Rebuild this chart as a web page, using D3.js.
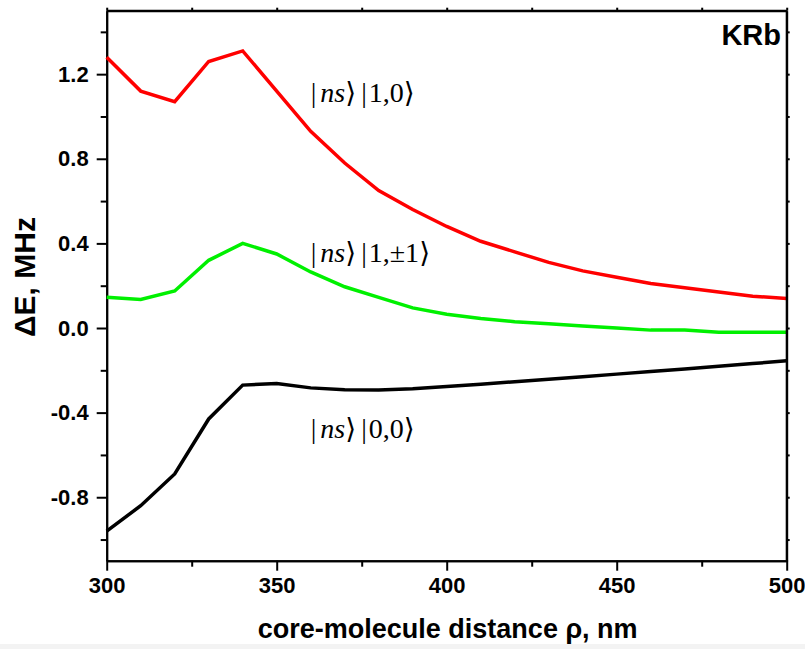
<!DOCTYPE html>
<html>
<head>
<meta charset="utf-8">
<script src="https://cdn.jsdelivr.net/npm/d3@7"></script>
<style>
  html, body { margin: 0; padding: 0; background: #fff; }
  svg { display: block; }
</style>
</head>
<body>
<svg id="chart" width="805" height="649"></svg>
<script>
// Core–molecule distance (nm)
const rho = [300, 310, 320, 330, 340, 350, 360, 370, 380, 390, 400,
             410, 420, 430, 440, 450, 460, 470, 480, 490, 500];

// Energy shifts ΔE (MHz) for each molecular state
const shift10 = [1.28, 1.12, 1.07, 1.26, 1.31, 1.12, 0.93, 0.78, 0.65, 0.56, 0.48,
                 0.41, 0.36, 0.31, 0.27, 0.24, 0.21, 0.19, 0.17, 0.15, 0.14];
const shift11 = [0.145, 0.135, 0.175, 0.32, 0.40, 0.35, 0.265, 0.195, 0.145, 0.095, 0.065,
                 0.045, 0.03, 0.02, 0.01, 0.0, -0.01, -0.01, -0.02, -0.02, -0.02];
const shift00 = [-0.96, -0.84, -0.69, -0.43, -0.27, -0.262, -0.283, -0.292, -0.293, -0.287, -0.277,
                 -0.266, -0.254, -0.242, -0.23, -0.218, -0.206, -0.194, -0.181, -0.168, -0.155];

const seriesNames = ["1,0", "1,\u00B11", "0,0"];
const seriesColors = ["#ff0000", "#00f000", "#000000"];
const labelPos = [[360, 1.07], [360, 0.31], [360, -0.52]];

const xTicks = [300, 350, 400, 450, 500];
const xMinorTicks = [325, 375, 425, 475];
const yTicks = [-0.8, -0.4, 0.0, 0.4, 0.8, 1.2];
const yTickLabels = ["-0.8", "-0.4", "0.0", "0.4", "0.8", "1.2"];
const yMinorTicks = [-1.0, -0.6, -0.2, 0.2, 0.6, 1.0, 1.4];

const svg = d3.select("#chart");
const m = { left: 106.7, right: 786.7, top: 10.7, bottom: 560.7 };

const x = d3.scaleLinear().domain([300, 500]).range([m.left, m.right]);
const y = d3.scaleLinear().domain([-1.1, 1.5]).range([m.bottom, m.top]);

// faint strip along the bottom edge
svg.append("rect").attr("x", 0).attr("y", 644).attr("width", 805).attr("height", 5).attr("fill", "#f3f3f3");

const tickFont = "'Liberation Sans', Arial, sans-serif";

function styleAxis(g) {
  g.selectAll("path.domain").attr("stroke", "#000").attr("stroke-width", 2);
  g.selectAll(".tick line").attr("stroke", "#000").attr("stroke-width", 2);
  g.selectAll("text").attr("font-family", tickFont).attr("font-weight", "bold")
    .attr("font-size", 22).attr("fill", "#000");
}

// bottom axis
svg.append("g").attr("transform", `translate(0,${m.bottom})`)
  .call(d3.axisBottom(x).tickValues(xTicks).tickSize(10).tickSizeOuter(0).tickPadding(7).tickFormat(d3.format("d")))
  .call(styleAxis);
svg.append("g").attr("transform", `translate(0,${m.bottom})`)
  .call(d3.axisBottom(x).tickValues(xMinorTicks).tickSize(6).tickSizeOuter(0).tickFormat(""))
  .call(styleAxis);

// left axis
svg.append("g").attr("transform", `translate(${m.left},0)`)
  .call(d3.axisLeft(y).tickValues(yTicks).tickSize(10).tickSizeOuter(0).tickPadding(8)
    .tickFormat((d, i) => yTickLabels[i]))
  .call(styleAxis);
svg.append("g").attr("transform", `translate(${m.left},0)`)
  .call(d3.axisLeft(y).tickValues(yMinorTicks).tickSize(6).tickSizeOuter(0).tickFormat(""))
  .call(styleAxis);

// top and right axes (ticks only)
svg.append("g").attr("transform", `translate(0,${m.top})`)
  .call(d3.axisTop(x).tickValues(xTicks.concat(xMinorTicks)).tickSize(3).tickSizeOuter(0).tickFormat(""))
  .call(styleAxis);
svg.append("g").attr("transform", `translate(${m.right},0)`)
  .call(d3.axisRight(y).tickValues(yTicks.concat(yMinorTicks)).tickSize(3).tickSizeOuter(0).tickFormat(""))
  .call(styleAxis);

// curves
const series = [shift10, shift11, shift00];
const line = d3.line().x((d, i) => x(rho[i])).y(d => y(d));
const plot = svg.append("g");
series.forEach((vals, k) => {
  plot.append("path").datum(vals)
    .attr("d", line)
    .attr("fill", "none")
    .attr("stroke", seriesColors[k])
    .attr("stroke-width", 3.5)
    .attr("stroke-linejoin", "miter");
});

// state labels |ns⟩|J,M⟩
const serif = "'Liberation Serif', 'Times New Roman', 'DejaVu Serif', serif";
const bracketFont = "'DejaVu Serif', serif";
seriesNames.forEach((name, k) => {
  const t = svg.append("text")
    .attr("x", x(labelPos[k][0]))
    .attr("y", y(labelPos[k][1]))
    .attr("font-family", serif)
    .attr("font-size", 28)
    .attr("fill", "#000");
  t.append("tspan").text("|");
  t.append("tspan").attr("dx", 4).attr("font-style", "italic").text("ns");
  t.append("tspan").attr("font-family", bracketFont).attr("font-size", 28).text("\u27E9");
  t.append("tspan").attr("dx", 5).text("|");
  t.append("tspan").attr("dx", 2).text(name);
  t.append("tspan").attr("font-family", bracketFont).attr("font-size", 28).text("\u27E9");
});

// frame lines on top of curves
svg.append("line").attr("x1", m.left).attr("x2", m.right).attr("y1", m.top).attr("y2", m.top)
  .attr("stroke", "#000").attr("stroke-width", 2);
svg.append("line").attr("x1", m.right).attr("x2", m.right).attr("y1", m.top).attr("y2", m.bottom)
  .attr("stroke", "#000").attr("stroke-width", 2);

// molecule tag
svg.append("text").attr("x", 781).attr("y", 45).attr("text-anchor", "end")
  .attr("font-family", tickFont).attr("font-weight", "bold").attr("font-size", 29)
  .text("KRb");

// axis titles
svg.append("text").attr("x", (m.left + m.right) / 2 + 1).attr("y", 638).attr("text-anchor", "middle")
  .attr("font-family", tickFont).attr("font-weight", "bold").attr("font-size", 27)
  .text("core-molecule distance \u03C1, nm");

svg.append("text").attr("transform", "translate(35,277) rotate(-90)").attr("text-anchor", "middle")
  .attr("font-family", tickFont).attr("font-weight", "bold").attr("font-size", 30)
  .text("\u0394E, MHz");
</script>
</body>
</html>
